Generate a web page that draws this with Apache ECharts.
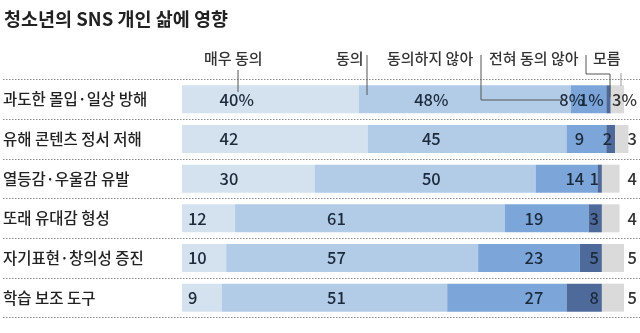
<!DOCTYPE html>
<html>
<head>
<meta charset="utf-8">
<script src="https://cdn.jsdelivr.net/npm/echarts@6/dist/echarts.min.js"></script>
<style>
  html, body { margin: 0; padding: 0; background: #fff; }
  #chart { width: 640px; height: 333px; }
</style>
</head>
<body>
<div id="chart"></div>
<script>
// Survey: how social media affects teenagers' lives (%)
const categories = ['과도한 몰입·일상 방해', '유해 콘텐츠 정서 저해', '열등감·우울감 유발', '또래 유대감 형성', '자기표현·창의성 증진', '학습 보조 도구'];
const responseNames = ['매우 동의', '동의', '동의하지 않아', '전혀 동의 않아', '모름'];
const stronglyAgree = [40, 42, 30, 12, 10, 9];
const agree = [48, 45, 50, 61, 57, 51];
const disagree = [8, 9, 14, 19, 23, 27];
const stronglyDisagree = [1, 2, 1, 3, 5, 8];
const dontKnow = [3, 3, 4, 4, 5, 5];

const seriesValues = [stronglyAgree, agree, disagree, stronglyDisagree, dontKnow];
const colors = ['#d4e2ef', '#b2cce8', '#7ca6d9', '#4e6a9b', '#dadada'];
const FONT = '"Noto Sans CJK KR", "Noto Sans", sans-serif';
const TEXT = '#1c2a3c';

// Where each value label sits, in axis units; rows whose first segment is
// wide use one set of columns, the others a tighter set.
const LABEL_COLUMNS = {
  wide:   [{ left: 8.5 }, { center: 56.4 }, { right: 91 }, { insideRight: 3, first: 7 }],
  narrow: [{ left: 1.35 }, { left: 32.8 }, { left: 77.5 }, { insideRight: 3, first: 7 }]
};

function cumBefore(s, r) {
  let sum = 0;
  for (let i = 0; i < s; i++) sum += seriesValues[i][r];
  return sum;
}

function placeLabel(s) {
  return function (p) {
    const r = p.dataIndex;
    const v = seriesValues[s][r];
    const rect = p.rect, lr = p.labelRect;
    if (!rect || !lr || !v) return {};
    const k = rect.width / v;
    const x0 = rect.x - cumBefore(s, r) * k;
    const rule = LABEL_COLUMNS[stronglyAgree[r] >= 20 ? 'wide' : 'narrow'][s];
    if (rule.insideRight !== undefined) {
      const gap = r === 0 ? rule.first : rule.insideRight;
      return { dx: rect.x + rect.width - gap - (lr.x + lr.width) };
    }
    if (rule.left !== undefined) return { dx: x0 + rule.left * k - lr.x };
    if (rule.right !== undefined) return { dx: x0 + rule.right * k - (lr.x + lr.width) };
    return { dx: x0 + rule.center * k - (lr.x + lr.width / 2) };
  };
}

const withPct = (v, i) => (i === 0 ? v + '%' : String(v));

const series = seriesValues.map((vals, s) => ({
  name: responseNames[s],
  type: 'bar',
  stack: 'total',
  xAxisIndex: 0,
  yAxisIndex: 0,
  barWidth: 28,
  clip: false,
  itemStyle: { color: colors[s] },
  data: vals,
  label: {
    show: s < 4,
    position: 'inside',
    color: TEXT,
    fontFamily: FONT,
    fontSize: 16.5,
    fontWeight: 500,
    formatter: (p) => withPct(p.value, p.dataIndex)
  },
  labelLayout: s < 4 ? placeLabel(s) : undefined,
  emphasis: { disabled: true },
  silent: true
}));

// Callout headings with their leader lines
const calloutText = (text, x) => ({
  type: 'text', left: x, top: 51, z: 100,
  style: { text: text, fill: '#333', font: '500 15px ' + FONT }
});
const lineEl = (points, color) => ({
  type: 'polyline',
  shape: { points: points },
  style: { stroke: color || '#555', lineWidth: 1, fill: null },
  z: 100
});

const chart = echarts.init(document.getElementById('chart'), null, { renderer: 'canvas' });
chart.setOption({
  animation: false,
  backgroundColor: '#fff',
  title: {
    text: '청소년의 SNS 개인 삶에 영향',
    left: -1, top: 5,
    textStyle: { fontFamily: FONT, fontSize: 18.5, fontWeight: 'bold', color: '#222' }
  },
  grid: [
    { left: 182, right: 13, top: 79.5, height: 238 },
    { left: 0, right: 0, top: 79.5, height: 238 }
  ],
  xAxis: [
    { type: 'value', gridIndex: 0, min: 0, max: 100, show: false },
    { type: 'value', gridIndex: 1, min: 0, max: 1, show: false }
  ],
  yAxis: [
    { type: 'category', gridIndex: 0, inverse: true, data: categories, show: false },
    {
      type: 'category', gridIndex: 0, inverse: true, position: 'right', data: categories, z: 10,
      axisLine: { show: false }, axisTick: { show: false },
      axisLabel: {
        margin: 13, align: 'right', color: '#333', fontFamily: FONT, fontSize: 16.5, fontWeight: 500,
        formatter: (val, i) => withPct(dontKnow[i], i)
      }
    },
    {
      type: 'category', gridIndex: 1, inverse: true, data: categories,
      axisLine: { show: false }, axisTick: { show: false },
      axisLabel: { inside: true, margin: 0, align: 'left', color: '#222', fontFamily: FONT, fontSize: 15.5, fontWeight: 500 },
      splitLine: { show: true, lineStyle: { type: [1.5, 1.5], color: '#8a8a8a', width: 1 } }
    }
  ],
  graphic: [
    calloutText('매우 동의', 204),
    lineEl([[238, 70], [238, 92]]),
    calloutText('동의', 336),
    lineEl([[367, 55], [367, 95]]),
    calloutText('동의하지 않아', 387),
    lineEl([[481, 55], [481, 100], [565, 100]]),
    calloutText('전혀 동의 않아', 489),
    lineEl([[586, 55], [586, 74], [610, 74], [610, 97]]),
    calloutText('모름', 593),
    lineEl([[621, 73], [621, 86]], '#999')
  ],
  series: series
});
</script>
</body>
</html>
